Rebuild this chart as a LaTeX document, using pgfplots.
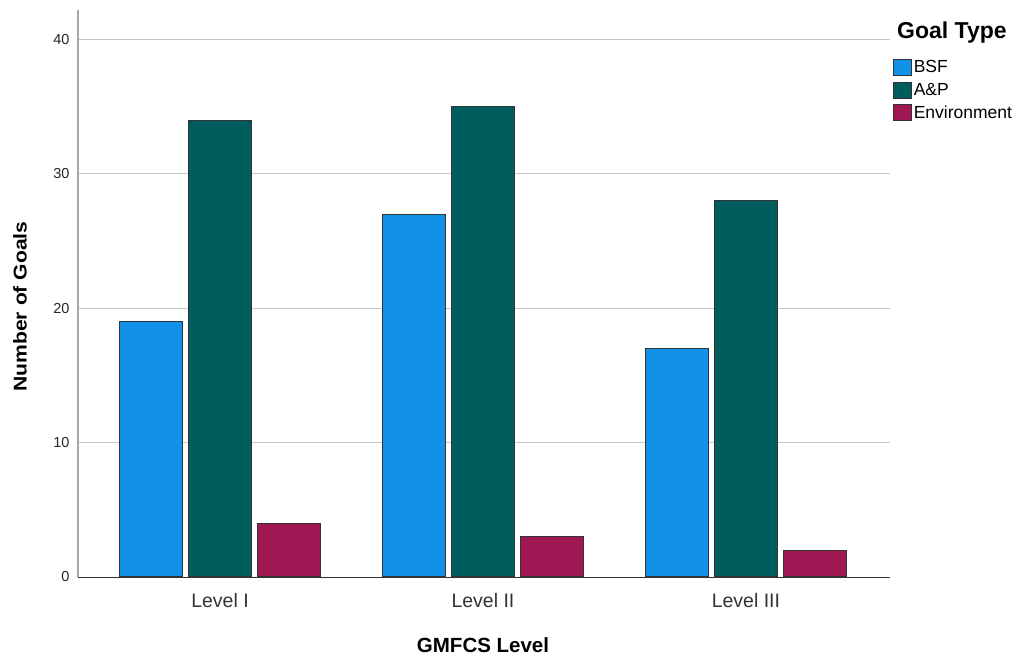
\documentclass[border=0pt]{standalone}
\usepackage{graphicx}
\usepackage{pgfplots}
\usepackage{pgfplotstable}
\usepackage{fontspec}
\setmainfont{Liberation Sans}
\pgfplotsset{compat=1.18}
\definecolor{cBSF}{HTML}{1192E8}
\definecolor{cAP}{HTML}{005D5D}
\definecolor{cEnv}{HTML}{9F1853}
\pgfplotstableread{
x bsf ap env
0 19 34 4
1 27 35 3
2 17 28 2
}\datatable
\begin{document}
\begin{tikzpicture}
\path[use as bounding box] (0,0) rectangle (1021bp,656bp);
\begin{axis}[
  at={(78bp,79bp)}, anchor=south west,
  scale only axis, width=812bp, height=567bp,
  xmin=-0.54, xmax=2.548, ymin=0, ymax=42.2,
  axis x line*=bottom, axis y line*=left,
  x axis line style={black!80, line width=1bp, -},
  y axis line style={black!35, line width=1.6bp, -},
  ymajorgrids, grid style={black!22, line width=1bp},
  xtick=data, xticklabels={Level I, Level II, Level III},
  ytick={0,10,20,30,40},
  major tick length=0pt,
  /pgf/number format/assume math mode=true,
  xticklabel style={anchor=center, yshift=-24bp, font=\fontsize{19.5bp}{22bp}\selectfont, text=black!80},
  yticklabel style={anchor=east, xshift=-5bp, font=\fontsize{14.5bp}{16bp}\selectfont, text=black!85},
  xlabel={GMFCS Level}, ylabel={\scalebox{1.14}[1]{Number of Goals}},
  every axis x label/.style={at={(axis description cs:0.4988,-0.12)}, anchor=center, font=\bfseries\fontsize{20.5bp}{24bp}\selectfont},
  every axis y label/.style={at={(axis description cs:-0.0714,0.477)}, anchor=center, rotate=90, font=\bfseries\fontsize{18.5bp}{22bp}\selectfont},
  ybar, bar width=0.238,
  legend style={draw=none, fill=none, at={(1.0037,0.914)}, anchor=north west, inner sep=0pt,
    font=\fontsize{17.5bp}{20bp}\selectfont, row sep=5.5bp,
    nodes={inner sep=1.5bp}},
  legend cell align=left,
  legend image code/.code={\draw[#1] (0bp,-8bp) rectangle (18bp,8bp);},
]
\addplot[bar shift=-0.262, fill=cBSF, draw=black!80, line width=1.1bp] table[x=x, y=bsf] {\datatable};
\addplot[bar shift=0, fill=cAP, draw=black!80, line width=1.1bp] table[x=x, y=ap] {\datatable};
\addplot[bar shift=0.262, fill=cEnv, draw=black!80, line width=1.1bp] table[x=x, y=env] {\datatable};
\legend{BSF, A\&P, Environment}
\end{axis}
\node[anchor=west, inner sep=0pt, font=\bfseries\fontsize{23bp}{26bp}\selectfont] at (897bp,623bp) {Goal Type};
\end{tikzpicture}
\end{document}
